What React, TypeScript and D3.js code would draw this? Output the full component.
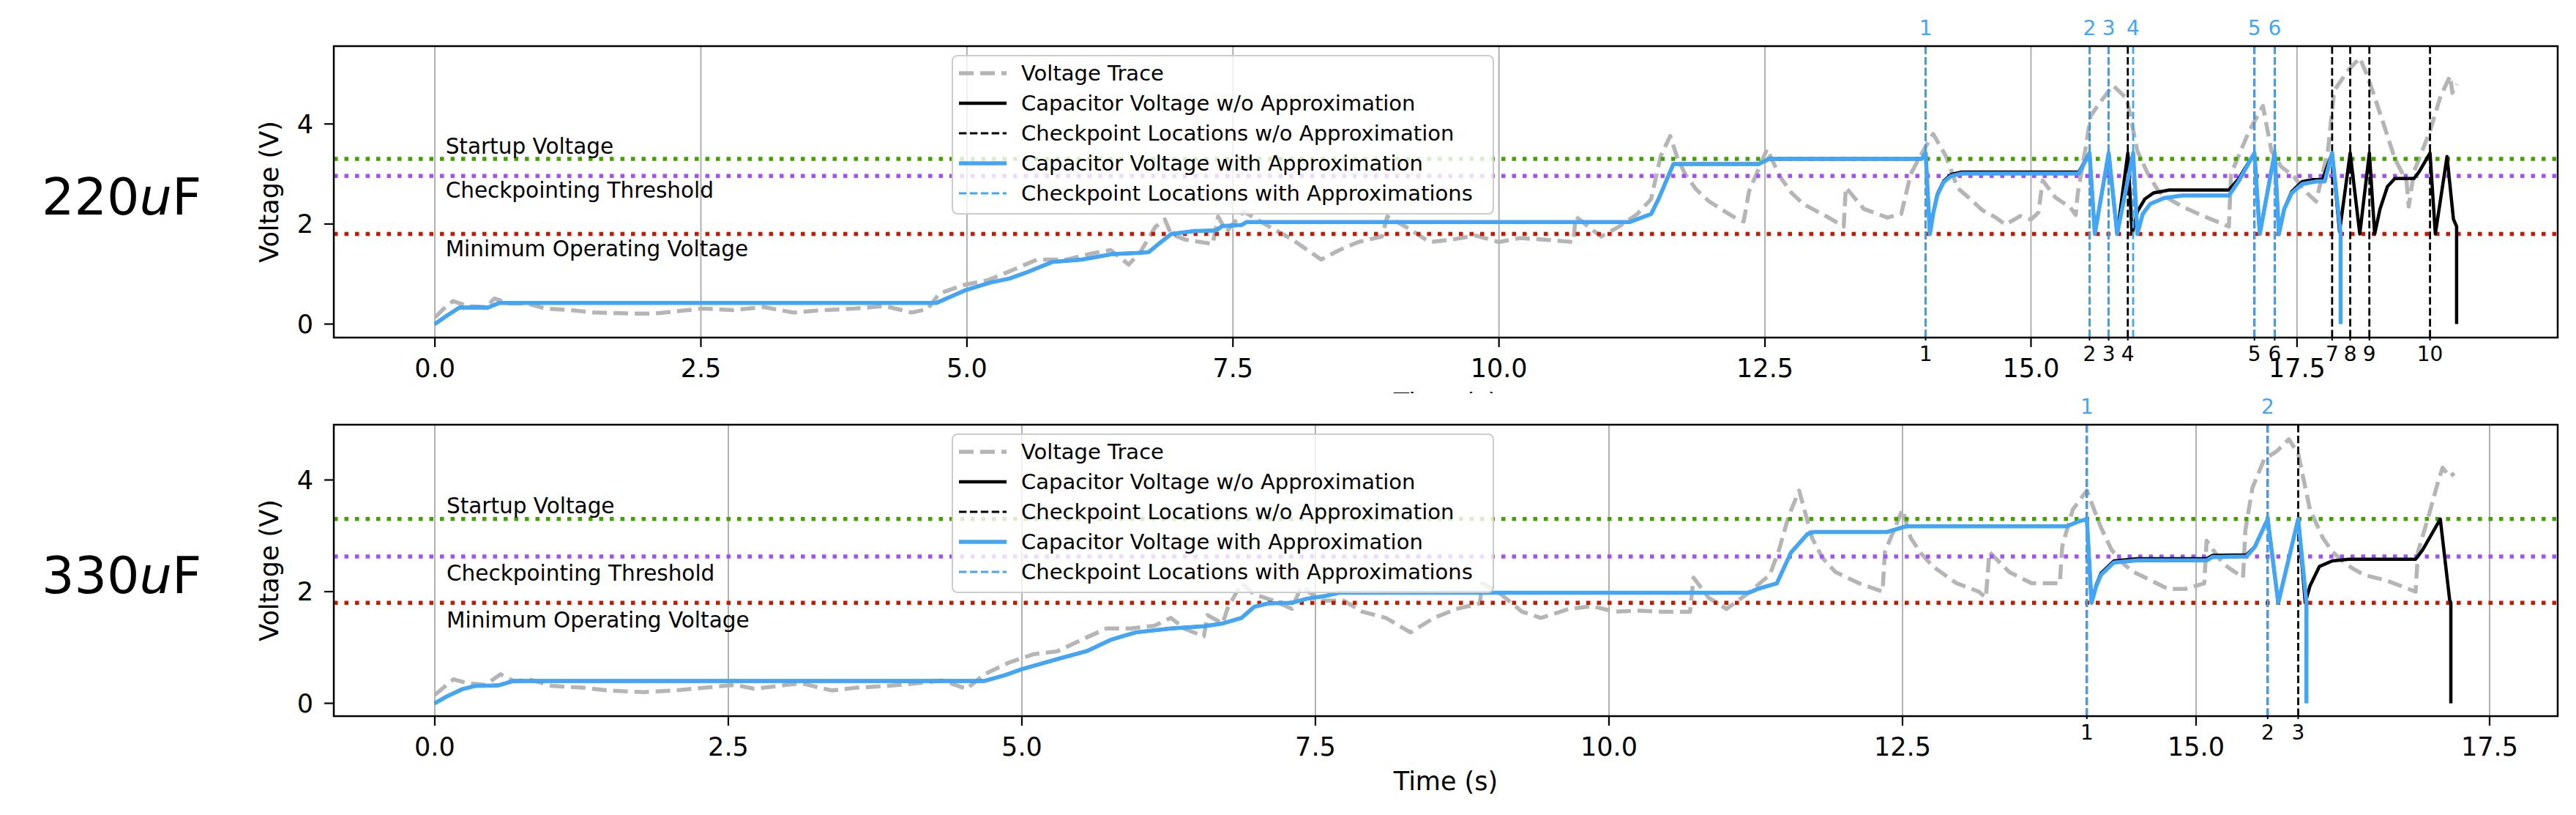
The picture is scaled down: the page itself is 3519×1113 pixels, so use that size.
import React from 'react';
import * as d3 from 'd3';

type Pt = [number, number];

// ---- shared axis / legend values ----
const xTicks = [0, 2.5, 5, 7.5, 10, 12.5, 15, 17.5];
const yTicks = [0, 2, 4];
const thresholdNames = ['Startup Voltage', 'Checkpointing Threshold', 'Minimum Operating Voltage'];
const legendNames = [
  'Voltage Trace',
  'Capacitor Voltage w/o Approximation',
  'Checkpoint Locations w/o Approximation',
  'Capacitor Voltage with Approximation',
  'Checkpoint Locations with Approximations',
];

// ---- 220uF ----
const thresholds220 = [3.3, 2.96, 1.8];
const trace220: Pt[] = [
  [0, 0.13], [0.08, 0.3], [0.17, 0.46], [0.31, 0.36], [0.48, 0.34], [0.56, 0.51], [0.7, 0.41], [0.87, 0.41],
  [1.04, 0.31], [1.27, 0.28], [1.5, 0.23], [1.84, 0.21], [2.06, 0.21], [2.29, 0.26], [2.52, 0.31], [2.8, 0.28],
  [3.09, 0.34], [3.37, 0.23], [3.66, 0.28], [3.94, 0.31], [4.23, 0.36], [4.48, 0.23], [4.63, 0.3], [4.74, 0.61],
  [4.97, 0.78], [5.2, 0.88], [5.43, 1.08], [5.66, 1.29], [5.94, 1.29], [6.17, 1.41], [6.35, 1.48], [6.52, 1.19],
  [6.63, 1.44], [6.77, 1.94], [6.86, 2.09], [6.92, 1.8], [7.05, 1.69], [7.31, 1.6], [7.36, 2.15], [7.44, 1.85],
  [7.6, 2.25], [7.84, 1.95], [8.05, 1.7], [8.2, 1.48], [8.33, 1.29], [8.5, 1.48], [8.68, 1.64], [8.9, 1.75],
  [8.95, 2.15], [9.12, 1.95], [9.35, 1.64], [9.56, 1.69], [9.78, 1.77], [10.0, 1.64], [10.2, 1.72], [10.4, 1.69],
  [10.7, 1.64], [10.72, 2.15], [10.96, 1.75], [11.13, 1.95], [11.3, 2.2], [11.43, 2.5], [11.52, 3.36], [11.61, 3.76],
  [11.68, 3.3], [11.75, 3.0], [11.85, 2.7], [11.97, 2.46], [12.1, 2.28], [12.2, 2.15], [12.3, 2.05], [12.35, 2.65],
  [12.46, 3.2], [12.52, 3.5], [12.64, 2.95], [12.75, 2.62], [12.86, 2.4], [13.08, 2.15], [13.24, 1.95], [13.26, 2.73],
  [13.43, 2.3], [13.65, 2.13], [13.78, 2.2], [13.87, 3.0], [13.97, 3.4], [14.08, 3.8], [14.2, 3.36], [14.31, 2.72],
  [14.43, 2.5], [14.54, 2.28], [14.66, 2.14], [14.76, 1.99], [14.9, 2.16], [15.0, 2.09], [15.07, 2.23], [15.11, 2.87],
  [15.23, 2.53], [15.37, 2.33], [15.42, 2.18], [15.44, 2.62], [15.52, 3.6], [15.56, 4.16], [15.66, 4.46], [15.77, 4.77],
  [15.9, 4.51], [16.0, 3.46], [16.1, 3.0], [16.2, 2.65], [16.3, 2.5], [16.42, 2.35], [16.63, 2.15], [16.86, 1.95],
  [16.88, 3.0], [17.05, 3.86], [17.18, 4.36], [17.26, 3.46], [17.35, 3.15], [17.47, 2.95], [17.58, 2.65], [17.68, 2.45],
  [17.79, 3.46], [17.85, 4.67], [17.98, 5.07], [18.09, 5.32], [18.15, 5.02], [18.22, 4.6], [18.32, 3.96], [18.42, 3.3],
  [18.53, 2.85], [18.55, 2.35], [18.6, 3.05], [18.75, 3.86], [18.85, 4.56], [18.94, 4.96], [18.96, 4.62], [19.0, 4.8],
];
const capNoApprox220: Pt[] = [
  [0, 0], [0.1, 0.15], [0.23, 0.33], [0.5, 0.33], [0.6, 0.42], [4.71, 0.42], [4.85, 0.55], [4.99, 0.68], [5.22, 0.83],
  [5.4, 0.91], [5.57, 1.04], [5.8, 1.24], [6.08, 1.29], [6.37, 1.4], [6.6, 1.42], [6.71, 1.44], [6.8, 1.6], [6.92, 1.8],
  [7.14, 1.86], [7.34, 1.87], [7.4, 1.96], [7.58, 1.98], [7.63, 2.04], [11.23, 2.04], [11.43, 2.2], [11.5, 2.5],
  [11.64, 3.2], [12.44, 3.2], [12.54, 3.3], [13.97, 3.3], [14.01, 3.42], [14.05, 1.8], [14.08, 2.2], [14.12, 2.6],
  [14.18, 2.86], [14.25, 2.99], [14.35, 3.04], [15.45, 3.04], [15.55, 3.42], [15.6, 1.8], [15.73, 3.42], [15.81, 1.8],
  [15.91, 3.42], [15.95, 1.8], [16.0, 2.25], [16.07, 2.5], [16.15, 2.62], [16.3, 2.68], [16.86, 2.68], [16.95, 2.9],
  [17.1, 3.42], [17.15, 1.8], [17.29, 3.42], [17.33, 1.8], [17.38, 2.3], [17.45, 2.65], [17.55, 2.85], [17.65, 2.89],
  [17.74, 2.89], [17.83, 3.42], [17.9, 1.85], [18.0, 3.42], [18.09, 1.8], [18.18, 3.42], [18.23, 1.8], [18.28, 2.3],
  [18.35, 2.75], [18.42, 2.91], [18.6, 2.91], [18.65, 3.05], [18.75, 3.42], [18.8, 1.8], [18.91, 3.35], [18.97, 2.1],
  [19.0, 1.95], [19.0, 0],
];
const capApprox220: Pt[] = [
  [0, 0], [0.1, 0.15], [0.23, 0.33], [0.5, 0.33], [0.6, 0.42], [4.71, 0.42], [4.85, 0.55], [4.99, 0.68], [5.22, 0.83],
  [5.4, 0.91], [5.57, 1.04], [5.8, 1.24], [6.08, 1.29], [6.37, 1.4], [6.6, 1.42], [6.71, 1.44], [6.8, 1.6], [6.92, 1.8],
  [7.14, 1.86], [7.34, 1.87], [7.4, 1.96], [7.58, 1.98], [7.63, 2.04], [11.23, 2.04], [11.43, 2.2], [11.5, 2.5],
  [11.64, 3.2], [12.44, 3.2], [12.54, 3.3], [13.97, 3.3], [14.01, 3.42], [14.05, 1.8], [14.08, 2.2], [14.12, 2.58],
  [14.18, 2.84], [14.25, 2.96], [14.35, 3.01], [15.45, 3.01], [15.55, 3.42], [15.6, 1.8], [15.73, 3.42], [15.81, 1.8],
  [15.96, 3.42], [16.0, 1.8], [16.05, 2.2], [16.12, 2.4], [16.25, 2.52], [16.42, 2.57], [16.86, 2.57], [16.95, 2.85],
  [17.1, 3.42], [17.15, 1.8], [17.29, 3.42], [17.33, 1.8], [17.38, 2.3], [17.45, 2.62], [17.55, 2.8], [17.68, 2.85],
  [17.76, 2.85], [17.83, 3.42], [17.91, 1.8], [17.91, 0],
];
const ckptNoApprox220 = [14.01, 15.55, 15.73, 15.91, 17.1, 17.29, 17.83, 18.0, 18.18, 18.75];
const ckptApprox220 = [14.01, 15.55, 15.73, 15.96, 17.1, 17.29];

// ---- 330uF ----
const thresholds330 = [3.3, 2.63, 1.8];
const trace330: Pt[] = [
  [0, 0.15], [0.16, 0.43], [0.28, 0.36], [0.43, 0.33], [0.56, 0.52], [0.68, 0.39], [0.8, 0.43], [1.0, 0.31],
  [1.26, 0.28], [1.47, 0.23], [1.78, 0.2], [2.04, 0.23], [2.3, 0.28], [2.56, 0.33], [2.72, 0.26], [2.92, 0.31],
  [3.12, 0.36], [3.38, 0.23], [3.59, 0.28], [3.85, 0.31], [4.11, 0.36], [4.32, 0.41], [4.53, 0.26], [4.68, 0.52],
  [4.89, 0.73], [5.1, 0.88], [5.3, 0.93], [5.51, 1.14], [5.72, 1.34], [5.93, 1.34], [6.13, 1.39], [6.27, 1.53],
  [6.39, 1.33], [6.55, 1.2], [6.58, 1.58], [6.71, 1.43], [6.75, 1.69], [6.87, 2.15], [6.98, 1.95], [7.14, 1.84],
  [7.3, 1.69], [7.38, 2.1], [7.54, 1.84], [7.74, 1.84], [7.9, 1.64], [8.1, 1.53], [8.31, 1.27], [8.51, 1.53],
  [8.7, 1.69], [8.9, 1.79], [8.92, 2.15], [9.06, 1.99], [9.26, 1.64], [9.42, 1.53], [9.66, 1.69], [9.86, 1.74],
  [10.05, 1.64], [10.25, 1.66], [10.45, 1.64], [10.69, 1.64], [10.72, 2.25], [10.85, 1.89], [11.0, 1.69], [11.17, 1.95],
  [11.37, 2.3], [11.45, 2.76], [11.53, 3.35], [11.62, 3.81], [11.73, 2.96], [11.82, 2.6], [11.93, 2.35], [12.13, 2.15],
  [12.33, 2.0], [12.35, 2.71], [12.5, 3.47], [12.57, 2.96], [12.66, 2.68], [12.76, 2.45], [12.96, 2.15], [13.15, 2.0],
  [13.21, 1.89], [13.24, 2.71], [13.41, 2.35], [13.6, 2.15], [13.84, 2.15], [13.86, 2.81], [13.95, 3.47], [14.07, 3.81],
  [14.19, 3.15], [14.28, 2.75], [14.38, 2.5], [14.47, 2.35], [14.57, 2.25], [14.76, 2.05], [14.91, 2.05], [15.07, 2.15],
  [15.09, 2.91], [15.23, 2.5], [15.4, 2.25], [15.42, 3.1], [15.48, 3.86], [15.58, 4.37], [15.69, 4.52], [15.79, 4.73],
  [15.87, 4.47], [15.97, 3.47], [16.08, 2.96], [16.16, 2.72], [16.24, 2.56], [16.33, 2.42], [16.43, 2.3], [16.62, 2.2],
  [16.87, 2.0], [16.89, 2.71], [16.98, 3.35], [17.06, 3.96], [17.1, 4.22], [17.16, 4.06], [17.2, 4.12],
];
const capNoApprox330: Pt[] = [
  [0, 0], [0.1, 0.12], [0.23, 0.25], [0.34, 0.31], [0.54, 0.32], [0.67, 0.4], [4.68, 0.4], [4.85, 0.5], [5.0, 0.61],
  [5.3, 0.79], [5.56, 0.94], [5.76, 1.14], [5.97, 1.27], [6.27, 1.34], [6.55, 1.38], [6.71, 1.43], [6.87, 1.53],
  [6.98, 1.73], [7.1, 1.79], [7.3, 1.8], [7.42, 1.87], [7.58, 1.92], [7.7, 1.98], [11.19, 1.98], [11.27, 2.05],
  [11.43, 2.15], [11.55, 2.7], [11.69, 3.03], [11.75, 3.07], [12.37, 3.07], [12.53, 3.17], [13.9, 3.17], [13.99, 3.25],
  [14.07, 3.3], [14.11, 1.8], [14.15, 2.12], [14.19, 2.33], [14.3, 2.55], [14.5, 2.59], [15.09, 2.59], [15.14, 2.65],
  [15.43, 2.66], [15.5, 2.8], [15.61, 3.3], [15.7, 1.8], [15.87, 3.3], [15.93, 1.8], [15.97, 2.1], [16.05, 2.45],
  [16.16, 2.55], [16.3, 2.58], [16.87, 2.58], [16.93, 2.75], [17.08, 3.3], [17.16, 1.85], [17.17, 1.8], [17.17, 0],
];
const capApprox330: Pt[] = [
  [0, 0], [0.1, 0.12], [0.23, 0.25], [0.34, 0.31], [0.54, 0.32], [0.67, 0.4], [4.68, 0.4], [4.85, 0.5], [5.0, 0.61],
  [5.3, 0.79], [5.56, 0.94], [5.76, 1.14], [5.97, 1.27], [6.27, 1.34], [6.55, 1.38], [6.71, 1.43], [6.87, 1.53],
  [6.98, 1.73], [7.1, 1.79], [7.3, 1.8], [7.42, 1.87], [7.58, 1.92], [7.7, 1.98], [11.19, 1.98], [11.27, 2.05],
  [11.43, 2.15], [11.55, 2.7], [11.69, 3.03], [11.75, 3.07], [12.37, 3.07], [12.53, 3.17], [13.9, 3.17], [13.99, 3.25],
  [14.07, 3.3], [14.11, 1.8], [14.15, 2.1], [14.19, 2.3], [14.3, 2.52], [14.5, 2.56], [15.09, 2.56], [15.14, 2.62],
  [15.43, 2.63], [15.5, 2.8], [15.61, 3.3], [15.7, 1.8], [15.87, 3.3], [15.94, 1.8], [15.94, 0],
];
const ckptNoApprox330 = [14.07, 15.61, 15.87];
const ckptApprox330 = [14.07, 15.61];

// ---- styling ----
const FONT = 'DejaVu Sans';
const BLUE = '#42a5f5';
const GRAY = '#b5b5b5';
const thresholdColors = ['#44a000', '#a64dff', '#c41a00'];
const AX_LEFT = 456;
const AX_RIGHT = 3494;

interface PanelProps {
  id: string;
  top: number;
  bottom: number;
  xDomain: [number, number];
  yDomain: [number, number];
  trace: Pt[];
  capNo: Pt[];
  capAp: Pt[];
  ckNo: number[];
  ckAp: number[];
  thresholds: number[];
  capLabel: string;
}

const Panel: React.FC<PanelProps> = ({ id, top, bottom, xDomain, yDomain, trace, capNo, capAp, ckNo, ckAp, thresholds, capLabel }) => {
  const x = d3.scaleLinear().domain(xDomain).range([AX_LEFT, AX_RIGHT]);
  const y = d3.scaleLinear().domain(yDomain).range([bottom, top]);
  const line = d3.line<Pt>().x(d => x(d[0])).y(d => y(d[1]));
  const mid = (top + bottom) / 2;
  const legTop = top + 13;
  const legLeft = 1301;
  const rowY = (i: number) => legTop + 24 + i * 41;

  const handles = [
    { stroke: GRAY, w: 5.5, dash: '20 9' },
    { stroke: '#000', w: 4.5, dash: undefined },
    { stroke: '#000', w: 2.8, dash: '10.4 4.5' },
    { stroke: BLUE, w: 5.5, dash: undefined },
    { stroke: BLUE, w: 2.8, dash: '10.4 4.5' },
  ];

  return (
    <g fontFamily={FONT}>
      <defs>
        <clipPath id={`clip-${id}`}>
          <rect x={AX_LEFT} y={top} width={AX_RIGHT - AX_LEFT} height={bottom - top} />
        </clipPath>
      </defs>

      {/* capacitor label */}
      <text x={57} y={mid + 31} fontSize={70} fill="#000">
        {capLabel}
        <tspan fontStyle="italic">u</tspan>F
      </text>

      <rect x={AX_LEFT} y={top} width={AX_RIGHT - AX_LEFT} height={bottom - top} fill="#fff" />

      {/* vertical grid */}
      {xTicks.map(t => (
        <line key={`g${t}`} x1={x(t)} x2={x(t)} y1={top} y2={bottom} stroke="#b0b0b0" strokeWidth={2} />
      ))}

      <g clipPath={`url(#clip-${id})`} fill="none">
        <path d={line(trace) ?? ''} stroke={GRAY} strokeWidth={5.5} strokeDasharray="20 9" strokeLinejoin="round" />
        {thresholds.map((v, i) => (
          <line key={`th${i}`} x1={AX_LEFT} x2={AX_RIGHT} y1={y(v)} y2={y(v)} stroke={thresholdColors[i]}
            strokeWidth={5.5} strokeDasharray="5.5 9" />
        ))}
        <path d={line(capNo) ?? ''} stroke="#000" strokeWidth={4.5} strokeLinejoin="round" />
        {ckNo.map((t, i) => (
          <line key={`cn${i}`} x1={x(t)} x2={x(t)} y1={top} y2={bottom} stroke="#000" strokeWidth={2.8}
            strokeDasharray="10.4 4.5" />
        ))}
        <path d={line(capAp) ?? ''} stroke={BLUE} strokeWidth={5.5} strokeLinejoin="round" />
        {ckAp.map((t, i) => (
          <line key={`ca${i}`} x1={x(t)} x2={x(t)} y1={top} y2={bottom} stroke={BLUE} strokeWidth={2.8}
            strokeDasharray="10.4 4.5" />
        ))}
      </g>

      {/* threshold annotations */}
      {thresholds.map((v, i) => (
        <text key={`tl${i}`} x={x(0.1)} y={y(i === 0 ? v + 0.1 : v - 0.44)} fontSize={29.5} fill="#000">
          {thresholdNames[i]}
        </text>
      ))}

      {/* legend */}
      <rect x={legLeft} y={legTop} width={739} height={216} rx={7} fill="#fff" fillOpacity={0.8}
        stroke="#cccccc" strokeWidth={2} />
      {legendNames.map((name, i) => (
        <g key={`lg${i}`}>
          <line x1={legLeft + 9} x2={legLeft + 74} y1={rowY(i)} y2={rowY(i)} stroke={handles[i].stroke}
            strokeWidth={handles[i].w} strokeDasharray={handles[i].dash} />
          <text x={legLeft + 94} y={rowY(i) + 10} fontSize={29} fill="#000">{name}</text>
        </g>
      ))}

      {/* spines */}
      <rect x={AX_LEFT} y={top} width={AX_RIGHT - AX_LEFT} height={bottom - top} fill="none" stroke="#000" strokeWidth={2.5} />

      {/* x ticks */}
      {xTicks.map(t => (
        <g key={`xt${t}`}>
          <line x1={x(t)} x2={x(t)} y1={bottom} y2={bottom + 13} stroke="#000" strokeWidth={2.2} />
          <text x={x(t)} y={bottom + 54} fontSize={35} textAnchor="middle">{d3.format('.1f')(t)}</text>
        </g>
      ))}
      {/* y ticks */}
      {yTicks.map(v => (
        <g key={`yt${v}`}>
          <line x1={AX_LEFT - 13} x2={AX_LEFT} y1={y(v)} y2={y(v)} stroke="#000" strokeWidth={2.2} />
          <text x={AX_LEFT - 28} y={y(v)} dy="0.35em" fontSize={35} textAnchor="end">{v}</text>
        </g>
      ))}

      {/* checkpoint index labels */}
      {ckNo.map((t, i) => (
        <g key={`cl${i}`}>
          <line x1={x(t)} x2={x(t)} y1={bottom} y2={bottom + 4} stroke="#000" strokeWidth={2} />
          <text x={x(t)} y={bottom + 32} fontSize={28} textAnchor="middle">{i + 1}</text>
        </g>
      ))}
      {ckAp.map((t, i) => (
        <text key={`ctl${i}`} x={x(t)} y={top - 15} fontSize={28} textAnchor="middle" fill={BLUE}>{i + 1}</text>
      ))}

      <text transform={`translate(380, ${mid}) rotate(-90)`} fontSize={35} textAnchor="middle">Voltage (V)</text>
      <text x={(AX_LEFT + AX_RIGHT) / 2} y={bottom + 101} fontSize={35} textAnchor="middle">Time (s)</text>
    </g>
  );
};

const App: React.FC = () => {
  return (
    <div style={{ position: 'absolute', left: 0, top: 0 }}>
      <svg width={3519} height={1113} style={{ display: 'block', background: '#fff' }}>
        <Panel id="a" top={63} bottom={461} xDomain={[-0.95, 19.95]} yDomain={[-0.27, 5.556]}
          trace={trace220} capNo={capNoApprox220} capAp={capApprox220} ckNo={ckptNoApprox220} ckAp={ckptApprox220}
          thresholds={thresholds220} capLabel="220" />
        {/* second figure is pasted over the bottom of the first one */}
        <rect x={0} y={537} width={3519} height={576} fill="#fff" />
        <Panel id="b" top={580} bottom={978} xDomain={[-0.86, 18.08]} yDomain={[-0.23, 4.99]}
          trace={trace330} capNo={capNoApprox330} capAp={capApprox330} ckNo={ckptNoApprox330} ckAp={ckptApprox330}
          thresholds={thresholds330} capLabel="330" />
      </svg>
    </div>
  );
};

export default App;
